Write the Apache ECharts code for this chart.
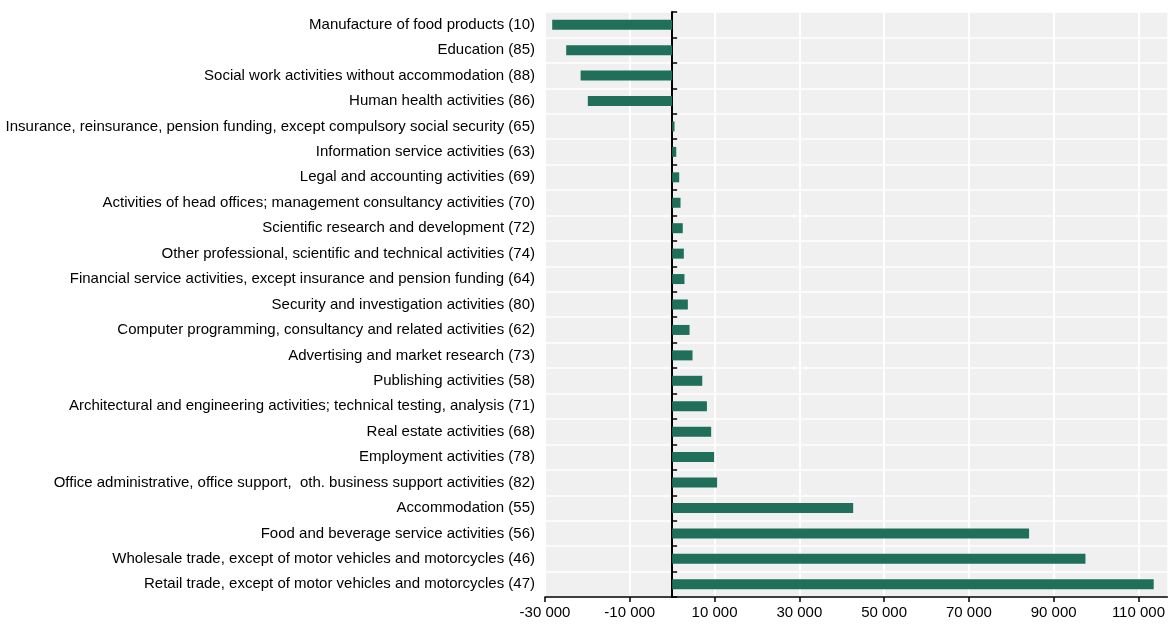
<!DOCTYPE html>
<html>
<head>
<meta charset="utf-8">
<script src="https://cdn.jsdelivr.net/npm/echarts@6/dist/echarts.min.js"></script>
<style>
html,body{margin:0;padding:0;background:#fff;}
#chart{width:1168px;height:627px;}
</style>
</head>
<body>
<div id="chart"></div>
<script>
const categories = [
  "Manufacture of food products (10)",
  "Education (85)",
  "Social work activities without accommodation (88)",
  "Human health activities (86)",
  "Insurance, reinsurance, pension funding, except compulsory social security (65)",
  "Information service activities (63)",
  "Legal and accounting activities (69)",
  "Activities of head offices; management consultancy activities (70)",
  "Scientific research and development (72)",
  "Other professional, scientific and technical activities (74)",
  "Financial service activities, except insurance and pension funding (64)",
  "Security and investigation activities (80)",
  "Computer programming, consultancy and related activities (62)",
  "Advertising and market research (73)",
  "Publishing activities (58)",
  "Architectural and engineering activities; technical testing, analysis (71)",
  "Real estate activities (68)",
  "Employment activities (78)",
  "Office administrative, office support,  oth. business support activities (82)",
  "Accommodation (55)",
  "Food and beverage service activities (56)",
  "Wholesale trade, except of motor vehicles and motorcycles (46)",
  "Retail trade, except of motor vehicles and motorcycles (47)"
];
const values = [
  -28300, -25000, -21600, -19900,
  560, 960, 1660, 1970, 2500, 2750, 2900, 3700,
  4100, 4800, 7100, 8200, 9200, 9900, 10600,
  42700, 84200, 97500, 113600
];
const xTicks = [-30000, -10000, 10000, 30000, 50000, 70000, 90000, 110000];
const xMin = -30000;
const xMax = 116800;

const fmt = v => {
  const s = Math.abs(v).toString().replace(/\B(?=(\d{3})+(?!\d))/g, ' ');
  return (v < 0 ? '-' : '') + s;
};

const font = "'Liberation Sans', Arial, sans-serif";
const chart = echarts.init(document.getElementById('chart'), null, {renderer: 'canvas'});
chart.setOption({
  animation: false,
  backgroundColor: '#ffffff',
  grid: {
    left: 545, right: 0, top: 12, bottom: 30,
    show: true, backgroundColor: '#f0f0f0', borderWidth: 0
  },
  xAxis: {
    type: 'value',
    min: xMin, max: xMax,
    axisLine: {show: true, onZero: false, lineStyle: {color: '#000', width: 1.5}},
    axisTick: {show: true, length: 5, customValues: xTicks, lineStyle: {color: '#000', width: 1.5}},
    axisLabel: {customValues: xTicks, formatter: fmt, color: '#000', fontFamily: font, fontSize: 15, margin: 8},
    splitLine: {show: true, lineStyle: {color: '#ffffff', width: 2}}
  },
  yAxis: [
    {
      type: 'category',
      data: categories,
      inverse: true,
      axisLine: {show: false, onZero: false},
      axisTick: {show: false},
      axisLabel: {color: '#000', fontFamily: font, fontSize: 15, margin: 10},
      splitLine: {show: true, lineStyle: {color: '#ffffff', width: 1.5}}
    },
    {
      type: 'category',
      data: categories,
      inverse: true,
      position: 'left',
      axisLine: {show: true, onZero: true, onZeroAxisIndex: 0, lineStyle: {color: '#000', width: 2}},
      axisTick: {show: true, inside: true, length: 5, lineStyle: {color: '#000', width: 1.5}},
      axisLabel: {show: false},
      splitLine: {show: false}
    }
  ],
  series: [{
    type: 'bar',
    yAxisIndex: 0,
    data: values,
    barWidth: 10,
    itemStyle: {color: '#206f5a'},
    silent: true
  }]
});
</script>
</body>
</html>
